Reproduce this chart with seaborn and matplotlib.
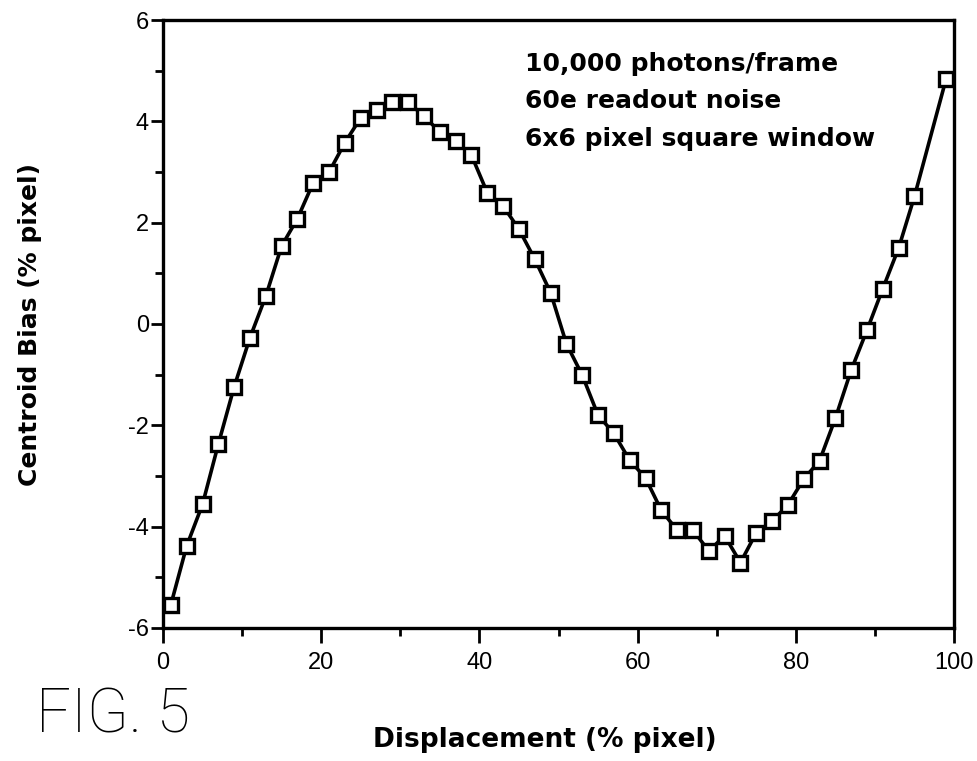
import numpy as np
import pandas as pd
import seaborn as sns
import matplotlib.pyplot as plt
from matplotlib.ticker import MultipleLocator

sns.set_style('ticks')
plt.rcParams['font.family'] = ['Liberation Sans', 'DejaVu Sans']
plt.rcParams['axes.unicode_minus'] = False
plt.rcParams['text.color'] = 'black'
plt.rcParams['xtick.color'] = 'black'
plt.rcParams['ytick.color'] = 'black'
plt.rcParams['axes.edgecolor'] = 'black'

# Data (x=97 has no marker in the original)
displacement = [1, 3, 5, 7, 9, 11, 13, 15, 17, 19, 21, 23, 25, 27, 29, 31, 33, 35, 37, 39,
                41, 43, 45, 47, 49, 51, 53, 55, 57, 59, 61, 63, 65, 67, 69, 71, 73, 75, 77, 79,
                81, 83, 85, 87, 89, 91, 93, 95, 99]
centroid_bias = [-5.54, -4.38, -3.56, -2.37, -1.24, -0.27, 0.55, 1.54, 2.08, 2.79,
                 3.00, 3.58, 4.07, 4.23, 4.38, 4.38, 4.10, 3.79, 3.61, 3.33,
                 2.59, 2.33, 1.87, 1.28, 0.62, -0.39, -1.01, -1.80, -2.16, -2.69,
                 -3.04, -3.68, -4.07, -4.07, -4.48, -4.18, -4.71, -4.12, -3.89, -3.57,
                 -3.06, -2.70, -1.86, -0.91, -0.12, 0.70, 1.50, 2.52, 4.84]
notes = ['10,000 photons/frame', '60e readout noise', '6x6 pixel square window']

df = pd.DataFrame({'x': displacement, 'y': centroid_bias})

fig = plt.figure(figsize=(9.77, 7.61), dpi=100)
ax = fig.add_axes([0.1668, 0.1748, 0.8097, 0.7989])

sns.lineplot(data=df, x='x', y='y', ax=ax, color='black', linewidth=2.6,
             marker='s', markersize=10, markerfacecolor='white',
             markeredgecolor='black', markeredgewidth=2.4)

ax.set_xlim(0, 100)
ax.set_ylim(-6, 6)
ax.xaxis.set_major_locator(MultipleLocator(20))
ax.xaxis.set_minor_locator(MultipleLocator(10))
ax.yaxis.set_major_locator(MultipleLocator(2))
ax.yaxis.set_minor_locator(MultipleLocator(1))
ax.tick_params(which='major', length=9, width=2, labelsize=17, direction='out')
ax.tick_params(which='minor', length=6, width=2, direction='out')
ax.tick_params(axis='x', which='major', length=11, pad=6)
ax.tick_params(axis='y', pad=1)
for s in ax.spines.values():
    s.set_linewidth(2.4)
    s.set_visible(True)

ax.set_xlabel('')
ax.set_ylabel('')

# axis titles placed where the original has them
fig.text(0.031, 0.573, 'Centroid Bias (% pixel)', rotation=90, ha='center', va='center',
         fontsize=18, fontweight='bold', family=['DejaVu Sans'])
fig.text(0.558, 0.027, 'Displacement (% pixel)', ha='center', va='center',
         fontsize=19, fontweight='bold', family=['DejaVu Sans'])
fig.text(0.037, 0.060, 'FIG. 5', ha='left', va='center', fontsize=44,
         family=['Roboto', 'DejaVu Sans'], fontweight='light')

for i, line in enumerate(notes):
    ax.text(0.458, 0.927 - i * 0.061, line, transform=ax.transAxes, ha='left', va='center',
            fontsize=18, fontweight='bold', family=['DejaVu Sans'])

fig.savefig('out.png', dpi=100)
